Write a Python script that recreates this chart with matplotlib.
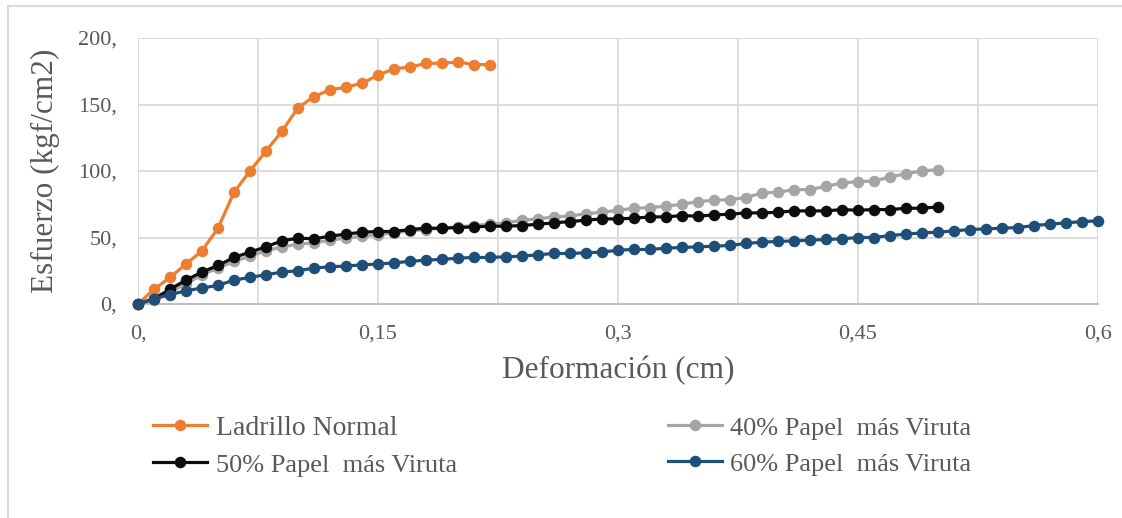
import numpy as np
import matplotlib
matplotlib.use("Agg")
import matplotlib.pyplot as plt
from matplotlib.patches import Rectangle
from matplotlib.ticker import FixedLocator

plt.rcParams['font.family'] = ['Liberation Serif', 'DejaVu Serif']

# Deformation steps (cm), one reading every 0.01 cm
deformacion = np.round(np.arange(0, 0.605, 0.01), 2)

ladrillo_normal = [0, 11, 20, 30, 40, 57, 84, 100, 115, 130, 147.5, 156, 161,
                   163, 166, 172, 177, 178, 181, 181, 182, 180, 180]

papel_40 = [0, 3, 9, 15, 22, 27, 32, 36, 40, 43, 45,
            46, 48, 49.5, 51, 52, 53.5, 55, 56, 57, 58,
            59, 60, 61, 63, 64, 65.5, 66, 68, 69, 70.5,
            72, 72.5, 73.5, 75, 77, 78, 78.5, 80, 83.5, 84,
            86, 86, 88.5, 91, 92, 92.5, 95.5, 98, 100, 101]

papel_50 = [0, 4, 11, 18, 24, 29, 35, 39, 43, 47.5, 49.5,
            49, 51, 52.5, 54, 54.5, 54.5, 56, 57, 57, 57.5,
            58, 58.5, 58.5, 59, 60, 61, 62, 63, 64, 64,
            64.5, 65.5, 65.5, 66.5, 66, 67, 67.5, 68.5, 68.5, 69,
            70, 70, 70, 71, 70.5, 71, 71, 72, 72, 73]

papel_60 = [0, 4, 7, 10, 12, 14, 18, 20, 22, 24, 25,
            27, 28, 28.5, 29.5, 30, 31, 32, 33, 33.5, 34.5,
            35, 35, 35.5, 36, 37, 38, 38, 38.5, 39, 40.5,
            41, 41, 42, 42.5, 43, 43.5, 44, 45.5, 46.5, 47,
            47.5, 48, 48.5, 49, 50, 50, 51.5, 52.5, 53.5, 54,
            55, 56, 56.5, 57, 57.5, 59, 60, 61, 62, 62.5]

series = [
    ("Ladrillo Normal", ladrillo_normal, "#ED7D31"),
    ("40% Papel  más Viruta", papel_40, "#A5A5A5"),
    ("50% Papel  más Viruta", papel_50, "#0D0D0D"),
    ("60% Papel  más Viruta", papel_60, "#1F4E79"),
]

x_ticks = [0, 0.15, 0.3, 0.45, 0.6]
x_tick_labels = ["0,", "0,15", "0,3", "0,45", "0,6"]
y_ticks = [0, 50, 100, 150, 200]
y_tick_labels = ["0,", "50,", "100,", "150,", "200,"]

text_color = "#595959"
grid_color = "#D9D9D9"

fig = plt.figure(figsize=(11.22, 5.18), dpi=100)
ax = fig.add_axes([138 / 1122, 1 - 304 / 518, 960 / 1122, 266 / 518])

lines = {}
for i, (name, vals, color) in enumerate(series):
    xs = deformacion[:len(vals)]
    ln, = ax.plot(xs, vals, "-o", color=color, lw=2.3, markersize=8.3,
                  markeredgewidth=0, label=name, zorder=3 + i, clip_on=False)
    lines[name] = ln

ax.set_xlim(0, 0.6)
ax.set_ylim(0, 200)

# vertical gridlines every 0.075, labels only every 0.15
ax.xaxis.set_major_locator(FixedLocator(x_ticks))
ax.set_xticklabels(x_tick_labels)
ax.set_yticks(y_ticks)
ax.set_yticklabels(y_tick_labels)
for xv in np.arange(0, 0.601, 0.075):
    ax.axvline(xv, color=grid_color, lw=1.3, zorder=1)
for yv in y_ticks[1:]:
    ax.axhline(yv, color=grid_color, lw=1.3, zorder=1)

for side in ["top", "right", "left"]:
    ax.spines[side].set_visible(False)
ax.spines["bottom"].set_color("#BFBFBF")
ax.spines["bottom"].set_linewidth(1.5)
ax.spines["bottom"].set_zorder(2)

ax.tick_params(axis="both", length=0, labelsize=16, labelcolor=text_color)
ax.tick_params(axis="x", pad=15)
ax.tick_params(axis="y", pad=15)

ax.set_xlabel("Deformación (cm)", fontsize=22.5, color=text_color, labelpad=9)
ax.set_ylabel("Esfuerzo (kgf/cm2)", fontsize=22.5, color=text_color, labelpad=13)

order = ["Ladrillo Normal", "50% Papel  más Viruta",
         "40% Papel  más Viruta", "60% Papel  más Viruta"]
leg = fig.legend([lines[n] for n in order], order, ncol=2, frameon=False,
                 loc="center left", bbox_to_anchor=(153 / 1122, 1 - 446 / 518),
                 fontsize=20, handlelength=1.95, handletextpad=0.3,
                 columnspacing=7.6, labelspacing=0.42, borderpad=0,
                 borderaxespad=0)
for t in leg.get_texts():
    t.set_color(text_color)
    if "Papel" in t.get_text():
        t.set_fontsize(19)

# chart area outline
fig.add_artist(Rectangle((8 / 1122, -0.1), 1.2, 1.1 - 6 / 518,
                         transform=fig.transFigure, fill=False,
                         edgecolor=grid_color, lw=1.5, clip_on=False))

fig.savefig("out.png", dpi=100, facecolor="white")
